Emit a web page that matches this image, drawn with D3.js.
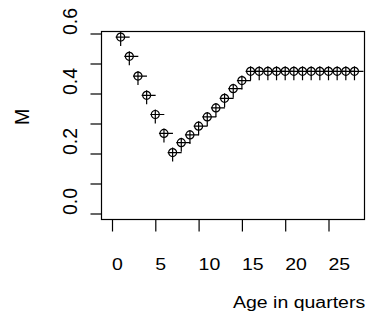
<!DOCTYPE html>
<html>
<head>
<meta charset="utf-8">
<script src="https://cdn.jsdelivr.net/npm/d3@7"></script>
<style>
  body { margin: 0; background: #fff; }
  svg { display: block; }
  text { font-family: "Liberation Sans", Arial, sans-serif; fill: #000; }
</style>
</head>
<body>
<script>
// data
var ages = [1, 2, 3, 4, 5, 6, 7, 8, 9, 10, 11, 12, 13, 14,
            15, 16, 17, 18, 19, 20, 21, 22, 23, 24, 25, 26, 27, 28];
var mValues = [0.588, 0.524, 0.458, 0.394, 0.330, 0.267, 0.203,
               0.236, 0.262, 0.291, 0.322, 0.352, 0.384, 0.416, 0.443,
               0.474, 0.474, 0.474, 0.474, 0.474, 0.474, 0.474,
               0.474, 0.474, 0.474, 0.474, 0.474, 0.474];
var xTicks = [0, 5, 10, 15, 20, 25];
var yTicks = [0, 0.1, 0.2, 0.3, 0.4, 0.5, 0.6];
var yLabels = [0, 0.2, 0.4, 0.6];

var width = 371, height = 329;
var box = { left: 101.5, right: 364.5, top: 31.5, bottom: 219.5 };

var x = d3.scaleLinear().domain([0, 25]).range([112, 328.5]);
var y = d3.scaleLinear().domain([0, 0.6]).range([213.5, 33.5]);

var svg = d3.select('body')
  .append('svg')
    .attr('width', width)
    .attr('height', height);

// plot frame
svg.append('rect')
  .attr('x', box.left)
  .attr('y', box.top)
  .attr('width', box.right - box.left)
  .attr('height', box.bottom - box.top)
  .attr('fill', 'none')
  .attr('stroke', '#000')
  .attr('stroke-width', 1.2);

// x axis
var xAxis = d3.axisBottom(x)
  .tickValues(xTicks)
  .tickSize(12)
  .tickSizeOuter(0)
  .tickFormat(d3.format('d'));

var gx = svg.append('g')
  .attr('transform', 'translate(0,' + box.bottom + ')')
  .call(xAxis);
gx.select('.domain').remove();
gx.selectAll('line').attr('stroke', '#000').attr('stroke-width', 1.2);
gx.selectAll('text')
  .attr('y', null)
  .attr('dy', null)
  .attr('text-anchor', 'start')
  .attr('font-size', 19.5)
  .attr('transform', 'translate(-0.5,50.5) scale(1,0.81)');

// y axis, labels only on every other tick
var yAxis = d3.axisLeft(y)
  .tickValues(yTicks)
  .tickSize(11)
  .tickSizeOuter(0)
  .tickFormat(function(d) { return yLabels.indexOf(d) >= 0 ? d3.format('.1f')(d) : ''; });

var gy = svg.append('g')
  .attr('transform', 'translate(' + box.left + ',0)')
  .call(yAxis);
gy.select('.domain').remove();
gy.selectAll('line').attr('stroke', '#000').attr('stroke-width', 1.2);
gy.selectAll('text')
  .attr('x', null)
  .attr('dy', null)
  .attr('text-anchor', 'start')
  .attr('font-size', 19.5)
  .attr('transform', 'translate(-25,1) rotate(-90)');

// axis titles
svg.append('text')
  .attr('text-anchor', 'start')
  .attr('font-size', 19.5)
  .attr('transform', 'translate(233,308) scale(1,0.81)')
  .text('Age in quarters');

svg.append('text')
  .attr('text-anchor', 'start')
  .attr('font-size', 19.5)
  .attr('transform', 'translate(29,125) rotate(-90)')
  .text('M');

// points: circle with a cross
var pts = svg.append('g')
  .selectAll('g')
  .data(ages.map(function(a, i) { return { age: a, m: mValues[i] }; }))
  .join('g')
    .attr('transform', function(d) { return 'translate(' + x(d.age) + ',' + y(d.m) + ')'; })
    .attr('stroke', '#000')
    .attr('stroke-width', 1.2)
    .attr('fill', 'none');

pts.append('circle').attr('r', 4);
pts.append('path').attr('d', 'M-5,0H9M0,-5V9');
</script>
</body>
</html>
